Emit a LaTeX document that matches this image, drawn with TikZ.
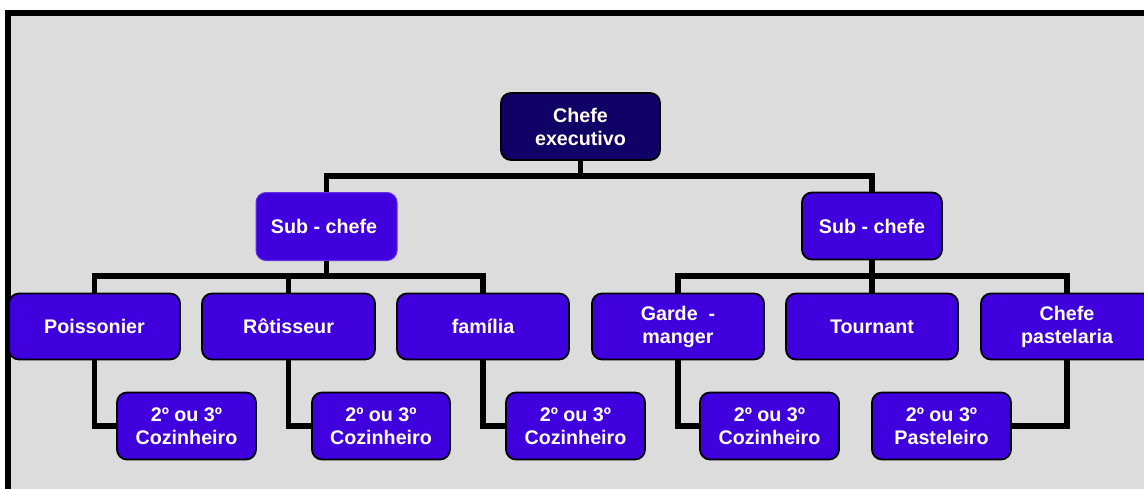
\documentclass[tikz,border=0pt]{standalone}
\usepackage{fontspec}
\setmainfont{Liberation Sans}
\definecolor{bg}{HTML}{DCDCDC}
\definecolor{boxblue}{HTML}{3F00DD}
\definecolor{navy}{HTML}{110066}
\definecolor{txt}{HTML}{FFFFF4}
\tikzset{
  box/.style={rectangle, rounded corners=10pt, draw=black, line width=1.8pt, fill=boxblue,
    text=txt, font=\bfseries\fontsize{19.7}{23}\selectfont, align=center, inner sep=0pt},
  link/.style={line width=5.5pt, draw=black, line join=miter}
}
\begin{document}
\begin{tikzpicture}[x=1pt,y=-1pt]
\useasboundingbox (0,0) rectangle (1144,488);
\clip (0,0) rectangle (1144,488);
\fill[white] (0,0) rectangle (1144,488);
\draw[fill=bg, line width=6pt] (8,13) rectangle (1160,500);
\coordinate (b1) at (580.5,176);
\coordinate (b2) at (326.5,276);
\coordinate (b3) at (872,276);
\node[box, fill=navy, minimum width=159pt, minimum height=67pt] (ce) at (580.5,126.5) {Chefe\\executivo};
\node[box, draw=boxblue!80!white, line width=1pt, minimum width=141pt, minimum height=68pt] (sl) at (326.5,226.5) {Sub - chefe\hspace{5pt}};
\node[box, minimum width=140pt, minimum height=67pt] (sr) at (872,226) {Sub - chefe};
\node[box, minimum width=171pt, minimum height=66pt] (p1) at (94.5,326.5) {Poissonier};
\node[box, minimum width=173pt, minimum height=66pt] (p2) at (288.5,326.5) {Rôtisseur};
\node[box, minimum width=172pt, minimum height=66pt] (p3) at (483,326.5) {família};
\node[box, minimum width=172pt, minimum height=66pt] (p4) at (678,326.5) {Garde~~-\\manger};
\node[box, minimum width=172pt, minimum height=66pt] (p5) at (872,326.5) {Tournant};
\node[box, minimum width=172pt, minimum height=66pt] (p6) at (1067,326.5) {Chefe\\pastelaria};
\node[box, minimum width=139pt, minimum height=67pt] (c1) at (186.5,426) {2º ou 3º\\Cozinheiro};
\node[box, minimum width=138pt, minimum height=67pt] (c2) at (381,426) {2º ou 3º\\Cozinheiro};
\node[box, minimum width=139pt, minimum height=67pt] (c3) at (575.5,426) {2º ou 3º\\Cozinheiro};
\node[box, minimum width=139pt, minimum height=67pt] (c4) at (769.5,426) {2º ou 3º\\Cozinheiro};
\node[box, minimum width=139pt, minimum height=67pt] (c5) at (941.5,426) {2º ou 3º\\Pasteleiro};
\draw[link] (ce.south) -- (b1);
\draw[link] (sl.north) |- (b1) -| (sr.north);
\draw[link] (sl.south) -- (b2);
\draw[link] (p1.north) |- (b2) -| (p3.north);
\draw[link] (p2.north) -- (p2.north |- b2);
\draw[link] (sr.south) -- (b3);
\draw[link] (p4.north) |- (b3) -| (p6.north);
\draw[link] (p5.north) -- (p5.north |- b3);
\draw[link] (p1.south) |- (c1.west);
\draw[link] (p2.south) |- (c2.west);
\draw[link] (p3.south) |- (c3.west);
\draw[link] (p4.south) |- (c4.west);
\draw[link] (p6.south) |- (c5.east);
\end{tikzpicture}
\end{document}
